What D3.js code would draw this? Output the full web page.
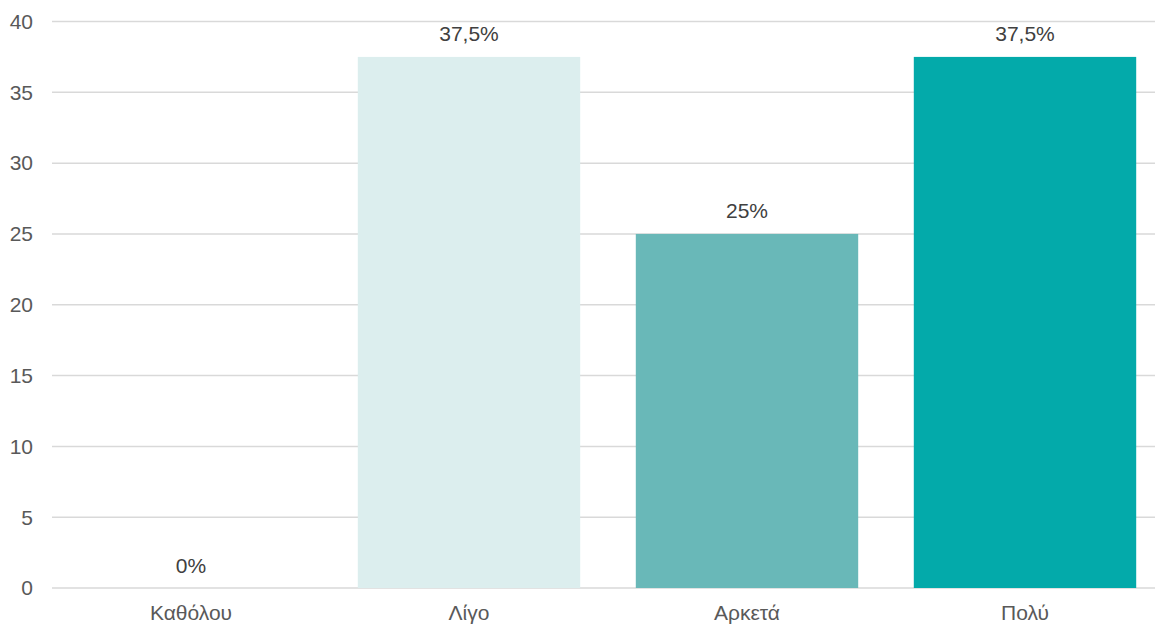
<!DOCTYPE html>
<html><head><meta charset="utf-8">
<script src="https://cdn.jsdelivr.net/npm/d3@7/dist/d3.min.js"></script>
<style>body{margin:0;background:#fff}svg{display:block}text{font-family:"Liberation Sans",Arial,sans-serif}</style>
</head><body><svg id="c" width="1155" height="625"></svg>
<script>
const categories = ["Καθόλου","Λίγο","Αρκετά","Πολύ"];
const values = [0, 37.5, 25, 37.5];
const valueLabels = ["0%","37,5%","25%","37,5%"];
const colors = ["#dceeee","#dceeee","#69b8b8","#03aaaa"];
const yTicks = [0,5,10,15,20,25,30,35,40];

const svg = d3.select("#c");
const x = d3.scaleBand().domain(categories).range([52,1164]).paddingInner(0.2).paddingOuter(0.1);
const y = d3.scaleLinear().domain([0,40]).range([588,21.5]);

svg.append("g").selectAll("line").data(yTicks).join("line")
  .attr("x1",52).attr("x2",1155)
  .attr("y1",d=>y(d)).attr("y2",d=>y(d))
  .attr("stroke","#d9d9d9").attr("stroke-width",1.5);

svg.append("g").selectAll("text").data(yTicks).join("text")
  .attr("x",33).attr("y",d=>y(d)).attr("dy","0.35em")
  .attr("text-anchor","end").attr("font-size",21).attr("fill","#595959")
  .text(d=>d);

svg.append("g").selectAll("rect").data(values).join("rect")
  .attr("x",(d,i)=>x(categories[i])).attr("width",x.bandwidth())
  .attr("y",d=>y(d)).attr("height",d=>y(0)-y(d))
  .attr("fill",(d,i)=>colors[i]);

svg.append("g").selectAll("text").data(values).join("text")
  .attr("x",(d,i)=>x(categories[i])+x.bandwidth()/2)
  .attr("y",d=>y(d)-15.5)
  .attr("text-anchor","middle").attr("font-size",21).attr("fill","#404040")
  .text((d,i)=>valueLabels[i]);

svg.append("g").selectAll("text").data(categories).join("text")
  .attr("x",d=>x(d)+x.bandwidth()/2).attr("y",620)
  .attr("text-anchor","middle").attr("font-size",21).attr("fill","#595959")
  .text(d=>d);
</script></body></html>
